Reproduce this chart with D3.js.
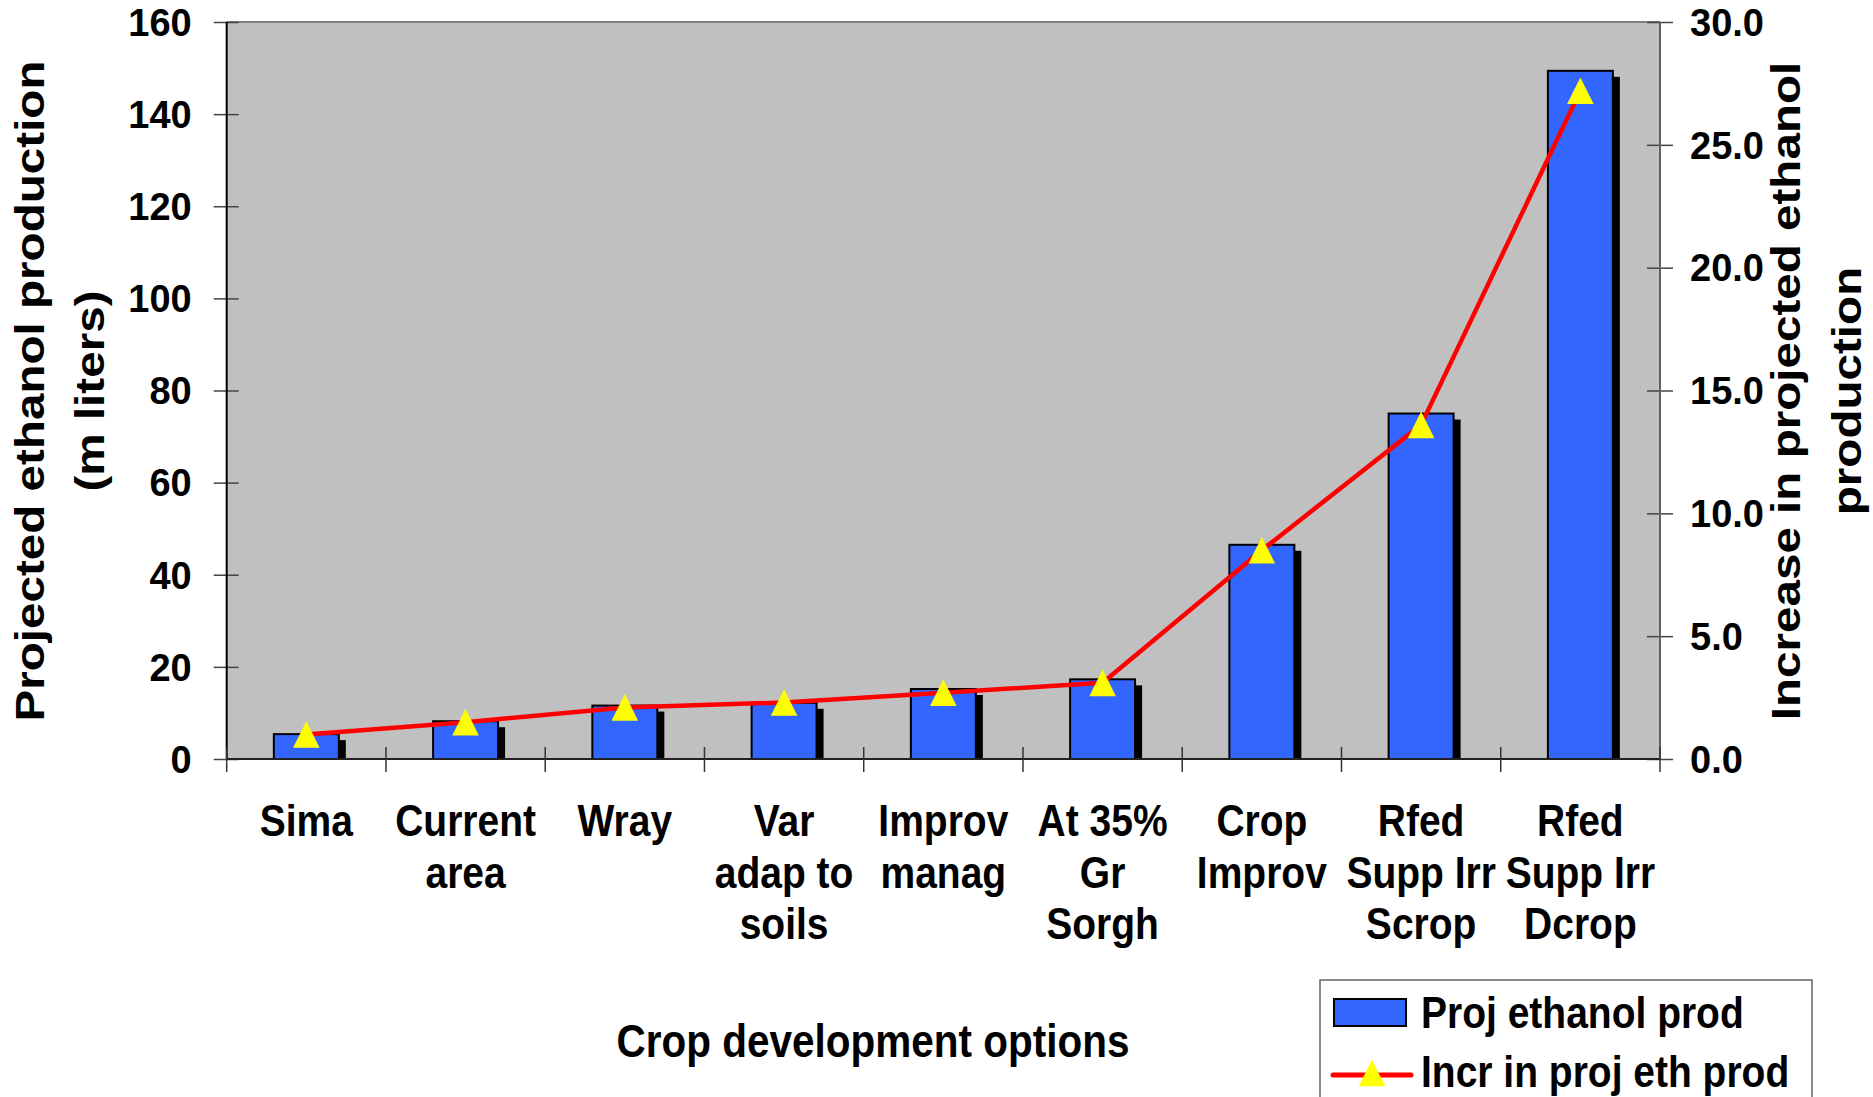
<!DOCTYPE html>
<html>
<head>
<meta charset="utf-8">
<script src="https://cdn.jsdelivr.net/npm/d3@7"></script>
<style>
  body { margin: 0; background: #fff; }
  svg { display: block; }
  text { font-family: "Liberation Sans", Arial, Helvetica, sans-serif; font-weight: bold; fill: #000; }
</style>
</head>
<body>
<svg id="chart" width="1873" height="1097"></svg>
<script>
// Crop development options (multi-line labels split on "\n")
const categories = [
  "Sima",
  "Current\narea",
  "Wray",
  "Var\nadap to\nsoils",
  "Improv\nmanag",
  "At 35%\nGr\nSorgh",
  "Crop\nImprov",
  "Rfed\nSupp Irr\nScrop",
  "Rfed\nSupp Irr\nDcrop"
];
// Projected ethanol production (m liters), left axis
const ethanolProd = [5.4, 8.2, 11.6, 12.2, 15.2, 17.3, 46.5, 75.0, 149.4];
// Increase in projected ethanol production, right axis
const ethanolIncrease = [1.0, 1.5, 2.1, 2.3, 2.7, 3.1, 8.5, 13.6, 27.2];

const leftTicks = [0, 20, 40, 60, 80, 100, 120, 140, 160];
const rightTicks = [0, 5, 10, 15, 20, 25, 30];

const seriesNames = ["Proj ethanol prod", "Incr in proj eth prod"];
const xTitle = "Crop development options";
const yLeftTitle = ["Projected ethanol production", "(m liters)"];
const yRightTitle = ["Increase in projected ethanol", "production"];

const svg = d3.select("#chart");
const plot = { left: 226.7, right: 1660, top: 22, bottom: 759 };

const x = d3.scaleBand()
  .domain(categories)
  .range([plot.left, plot.right])
  .paddingInner(0.592)
  .paddingOuter(0.296);
const yL = d3.scaleLinear().domain([0, 160]).range([plot.bottom, plot.top]);
const yR = d3.scaleLinear().domain([0, 30]).range([plot.bottom, plot.top]);
const bw = x.bandwidth();
const gap = x.step() - bw;
const cx = c => x(c) + bw / 2;

// Plot area
svg.append("rect")
  .attr("x", plot.left).attr("y", plot.top)
  .attr("width", plot.right - plot.left).attr("height", plot.bottom - plot.top)
  .attr("fill", "#c0c0c0");
svg.append("line")
  .attr("x1", plot.left).attr("x2", plot.right)
  .attr("y1", plot.top).attr("y2", plot.top)
  .attr("stroke", "#808080").attr("stroke-width", 2);

// Left axis
const gL = svg.append("g")
  .attr("transform", `translate(${plot.left},0)`)
  .call(d3.axisLeft(yL).tickValues(leftTicks).tickFormat(d3.format("d")).tickSizeOuter(0));
gL.select(".domain").remove();
gL.selectAll(".tick line").attr("x1", -13).attr("x2", 12).attr("stroke", "#444").attr("stroke-width", 1.5);
gL.selectAll(".tick text").attr("x", -35).attr("dy", "0.35em")
  .style("font-size", "38px").style("font-family", "'Liberation Sans', Arial, sans-serif").style("font-weight", "bold");
svg.append("line")
  .attr("x1", plot.left).attr("x2", plot.left)
  .attr("y1", plot.top).attr("y2", plot.bottom)
  .attr("stroke", "#000").attr("stroke-width", 2);

// Right axis
const gR = svg.append("g")
  .attr("transform", `translate(${plot.right},0)`)
  .call(d3.axisRight(yR).tickValues(rightTicks).tickFormat(d3.format(".1f")).tickSizeOuter(0));
gR.select(".domain").remove();
gR.selectAll(".tick line").attr("x1", -13).attr("x2", 13).attr("stroke", "#444").attr("stroke-width", 1.5);
gR.selectAll(".tick text").attr("x", 30).attr("dy", "0.35em")
  .style("font-size", "38px").style("font-family", "'Liberation Sans', Arial, sans-serif").style("font-weight", "bold");
svg.append("line")
  .attr("x1", plot.right).attr("x2", plot.right)
  .attr("y1", plot.top).attr("y2", plot.bottom)
  .attr("stroke", "#606060").attr("stroke-width", 2);

// Bar shadows, then bars
svg.append("g").selectAll("rect")
  .data(categories)
  .join("rect")
  .attr("x", c => x(c) + 7)
  .attr("y", (c, i) => yL(ethanolProd[i]) + 6)
  .attr("width", bw)
  .attr("height", (c, i) => plot.bottom - yL(ethanolProd[i]) - 6)
  .attr("fill", "#000");
svg.append("g").selectAll("rect")
  .data(categories)
  .join("rect")
  .attr("x", c => x(c))
  .attr("y", (c, i) => yL(ethanolProd[i]))
  .attr("width", bw)
  .attr("height", (c, i) => plot.bottom - yL(ethanolProd[i]))
  .attr("fill", "#3366ff")
  .attr("stroke", "#000")
  .attr("stroke-width", 2);

// Category axis
svg.append("line")
  .attr("x1", plot.left).attr("x2", plot.right)
  .attr("y1", plot.bottom).attr("y2", plot.bottom)
  .attr("stroke", "#222").attr("stroke-width", 2);
const boundaries = categories.map(c => x(c) - gap / 2).concat([plot.right]);
svg.append("g").selectAll("line")
  .data(boundaries)
  .join("line")
  .attr("x1", d => d).attr("x2", d => d)
  .attr("y1", plot.bottom - 12).attr("y2", plot.bottom + 13)
  .attr("stroke", "#333").attr("stroke-width", 1.5);

const catLabels = svg.append("g").selectAll("g")
  .data(categories)
  .join("g");
catLabels.each(function (c) {
  c.split("\n").forEach((line, j) => {
    d3.select(this).append("text")
      .attr("transform", `translate(${cx(c)},${836 + j * 51.5}) scale(1,1.15)`)
      .attr("text-anchor", "middle")
      .style("font-size", "39px")
      .text(line);
  });
});

// Increase line with triangle markers
const line = d3.line()
  .x((d, i) => cx(categories[i]))
  .y(d => yR(d));
svg.append("path")
  .datum(ethanolIncrease)
  .attr("d", line)
  .attr("fill", "none")
  .attr("stroke", "#ff0000")
  .attr("stroke-width", 4.5)
  .attr("stroke-linejoin", "round");
const tri = "M0,-13.3L13.3,13.3L-13.3,13.3Z";
svg.append("g").selectAll("path")
  .data(ethanolIncrease)
  .join("path")
  .attr("d", tri)
  .attr("transform", (d, i) => `translate(${cx(categories[i])},${yR(d)})`)
  .attr("fill", "#ffff00");

// Axis titles
svg.append("text")
  .attr("transform", "translate(873,1057) scale(1,1.15)")
  .attr("text-anchor", "middle")
  .style("font-size", "40.5px")
  .text(xTitle);

yLeftTitle.forEach((t, j) => {
  svg.append("text")
    .attr("transform", `translate(${44 + j * 60},391) rotate(-90) scale(1.19,1)`)
    .attr("text-anchor", "middle")
    .style("font-size", "40px")
    .text(t);
});
yRightTitle.forEach((t, j) => {
  svg.append("text")
    .attr("transform", `translate(${1800 + j * 61},391) rotate(-90) scale(1.19,1)`)
    .attr("text-anchor", "middle")
    .style("font-size", "40px")
    .text(t);
});

// Legend
const lg = svg.append("g");
lg.append("rect")
  .attr("x", 1320).attr("y", 980).attr("width", 492).attr("height", 140)
  .attr("fill", "#fff").attr("stroke", "#666").attr("stroke-width", 1.5);
lg.append("rect")
  .attr("x", 1334).attr("y", 999).attr("width", 72).attr("height", 27)
  .attr("fill", "#3366ff").attr("stroke", "#000").attr("stroke-width", 2);
lg.append("line")
  .attr("x1", 1333).attr("x2", 1411).attr("y1", 1075).attr("y2", 1075)
  .attr("stroke", "#ff0000").attr("stroke-width", 5).attr("stroke-linecap", "round");
lg.append("path")
  .attr("d", tri)
  .attr("transform", "translate(1372,1073)")
  .attr("fill", "#ffff00");
seriesNames.forEach((s, j) => {
  lg.append("text")
    .attr("transform", `translate(1421,${1028 + j * 59}) scale(1,1.15)`)
    .style("font-size", "39px")
    .text(s);
});
</script>
</body>
</html>
